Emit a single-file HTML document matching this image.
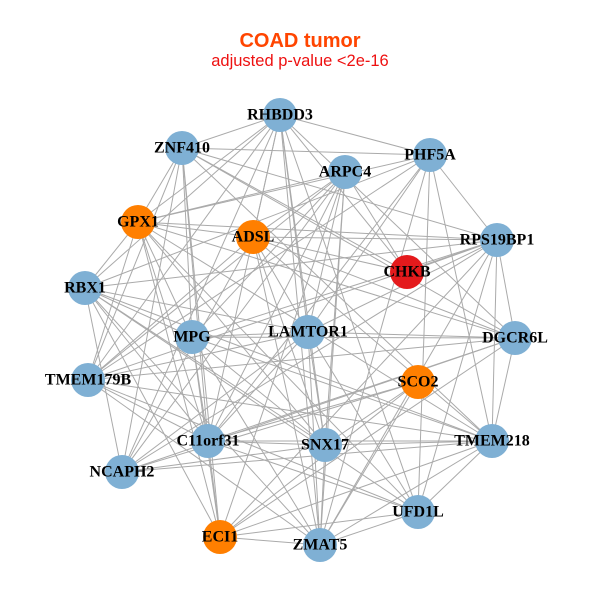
<!DOCTYPE html>
<html><head><meta charset="utf-8"><style>
html,body{margin:0;padding:0;background:#fff;}
svg text.l{font-family:"Liberation Serif",serif;font-weight:bold;font-size:16px;fill:#000;text-anchor:middle;dominant-baseline:central;}
</style></head><body>
<svg id="s" width="600" height="600" xmlns="http://www.w3.org/2000/svg">
<rect width="600" height="600" fill="#fff"/>
<text x="300" y="47" text-anchor="middle" font-family="Liberation Sans,sans-serif" font-weight="bold" font-size="20" fill="#ff4500">COAD tumor</text>
<text x="300" y="66" text-anchor="middle" font-family="Liberation Sans,sans-serif" font-size="16.5" fill="#ee1111">adjusted p-value &lt;2e-16</text>
<g id="e" stroke="#aaaaaa" stroke-width="1"></g>
<g id="n"></g>
</svg>
<script>
var N=[["RHBDD3",280,115,"b"],["ZNF410",182,148,"b"],["PHF5A",430,155,"b"],["ARPC4",345,172,"b"],["GPX1",138,222,"o"],["ADSL",253,237,"o"],["RPS19BP1",497,240,"b"],["CHKB",407,272,"r"],["RBX1",85,288,"b"],["MPG",192,337,"b"],["LAMTOR1",308,332,"b"],["DGCR6L",515,338,"b"],["TMEM179B",88,380,"b"],["SCO2",418,382,"o"],["C11orf31",208,441,"b"],["SNX17",325,445,"b"],["TMEM218",492,441,"b"],["NCAPH2",122,472,"b"],["UFD1L",418,512,"b"],["ECI1",220,537,"o"],["ZMAT5",320,545,"b"]];
var C={b:"#7fb0d4",o:"#ff7f00",r:"#e41a1c"};
var ns="http://www.w3.org/2000/svg",E=document.getElementById("e"),G=document.getElementById("n");
for(var i=0;i<N.length;i++)for(var j=i+1;j<N.length;j++){
 if((i*7+j*13+i*j)%10<7){var l=document.createElementNS(ns,"line");
 l.setAttribute("x1",N[i][1]);l.setAttribute("y1",N[i][2]);l.setAttribute("x2",N[j][1]);l.setAttribute("y2",N[j][2]);E.appendChild(l);}}
N.forEach(function(d){var c=document.createElementNS(ns,"circle");c.setAttribute("cx",d[1]);c.setAttribute("cy",d[2]);c.setAttribute("r",17);c.setAttribute("fill",C[d[3]]);G.appendChild(c);});
N.forEach(function(d){var t=document.createElementNS(ns,"text");t.setAttribute("class","l");t.setAttribute("x",d[1]);t.setAttribute("y",d[2]);t.textContent=d[0];G.appendChild(t);});
</script>
</body></html>
